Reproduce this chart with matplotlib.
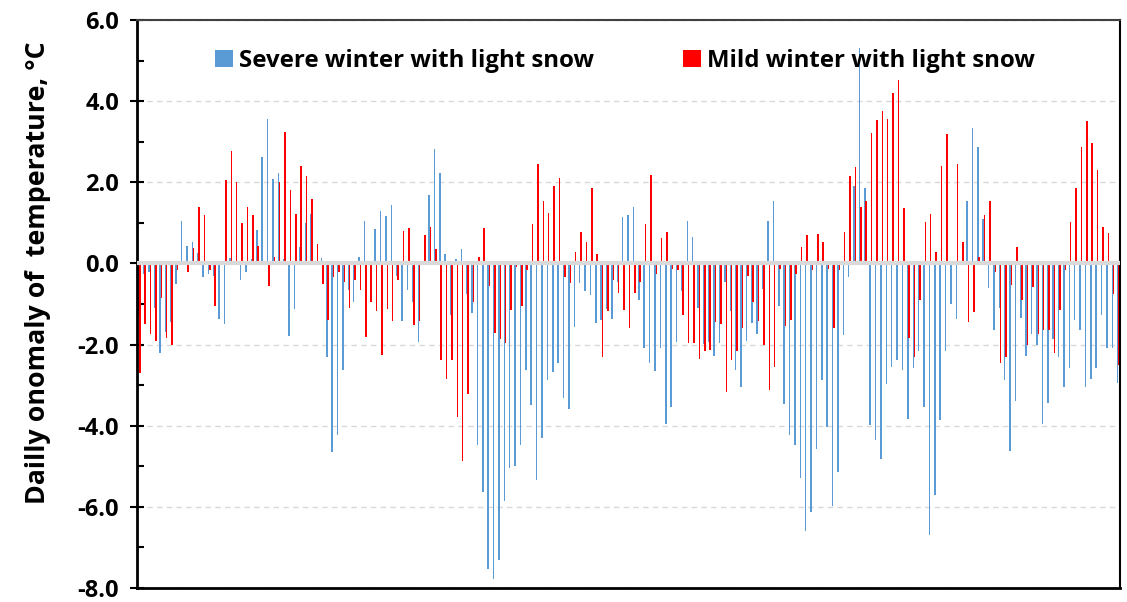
import matplotlib
matplotlib.use('Agg')
import matplotlib.pyplot as plt
import numpy as np
from matplotlib.ticker import MultipleLocator, FormatStrFormatter

# Daily temperature anomaly (°C)
severe_light_snow = [
    -1.3, -0.26, -0.2, -1.1, -2.2, -1.7, -1.45, -0.5, 1.05, 0.44,
    0.53, 0.25, -0.34, -0.27, -0.31, -1.36, -1.5, 0.13, 0.0, -0.4,
    -0.22, 0.1, 0.83, 2.62, 3.55, 2.09, 2.22,
    0.1, -1.8, -1.13, 0.4, 0.99, 1.21, 0.0, 0.13, -2.31, -4.65, -4.22, -2.63, -0.65,
    -0.96, 0.15, 1.04, 0.07, 0.85, 1.28, 1.16, 1.44, -0.31, -1.42, -0.65, -0.96, -1.93,
    0.0, 1.69, 2.82, 2.22, 0.24, -1.26, 0.1, 0.35, -0.76, -1.22, -4.47, -5.63, -7.54,
    -7.78, -7.31, -5.85, -5.05, -4.99, -4.47, -2.63, -3.49, -5.33, -4.31, -2.87, -2.67, -2.45,
    -3.31, -3.58, -1.56, -0.49, -0.69, -0.78, -1.47, -1.4, -1.13, -1.38, -0.45, 1.15, 1.19,
    1.4, -0.9, -2.08, -2.45, -2.65, -2.08, -3.95, -3.54, -1.93, -0.69, 1.05, 0.65, -1.1,
    -1.99, -1.93, -2.29, -1.97, -0.45, -1.18, -2.63, -3.05, -1.9, -1.46, -1.74, -0.63, 1.05,
    1.55, -1.05, -3.47, -4.22, -4.47, -5.3, -6.6, -6.13, -4.58, -2.87, -4.03, -5.99, -5.13,
    -1.76, -0.34, 1.91, 5.3, 1.85, -3.99, -4.35, -4.81, -2.96, -2.56, -2.38, -2.63, -3.84,
    -2.58, -2.15, -3.54, -6.69, -5.72, -3.87, -2.15, -1.01, -1.38, 0.0, 1.53, 3.35, 2.87,
    1.1, -0.6, -1.65, -1.11, -2.88, -4.63, -3.4, -1.35, -2.28, -1.75, -2.02, -3.96, -3.43,
    -1.87, -2.31, -3.05, -2.58, -1.4, -1.63, -3.04, -2.84, -2.58, -1.26, -2.08, -2.08, -2.95,
]
mild_light_snow = [
    -2.7, -1.5, -1.75, -1.9, -0.85, -1.85, -2.0, -0.15, 0.07, -0.22,
    0.37, 1.4, 1.19, -0.15, -1.05, 0.0, 2.05, 2.78, 2.0, 1.0,
    1.4, 1.19, 0.44, 0.0, -0.56, 0.15, 2.0,
    3.25, 1.8, 1.21, 2.4, 2.16, 1.6, 0.49, -0.51, -1.4, -0.33, -0.22, -0.45, -1.11,
    -0.42, -0.65, -1.81, -0.96, -1.17, -2.25, -1.13, -1.42, -0.42, 0.8, 0.87, -1.52, -1.42,
    0.69, 0.9, 0.35, -2.38, -2.84, -2.38, -3.78, -4.87, -3.22, -0.96, 0.15, 0.87, -0.56,
    -1.72, -1.87, -1.96, -1.15, -0.08, -1.05, -0.17, 0.96, 2.44, 1.53, 1.25, 1.91, 2.1,
    -0.33, -0.49, 0.28, 0.78, 0.53, 1.87, 0.24, -2.31, -1.17, -0.4, -0.72, -1.15, -1.6,
    -0.72, -0.46, 0.96, 2.18, -0.25, 0.62, 0.78, -0.13, -0.17, -1.26, -1.97, -1.97, -2.35,
    -2.15, -2.13, -1.45, -1.49, -3.17, -2.38, -2.17, -1.6, -0.3, -0.96, -1.42, -2.02, -3.13,
    -2.55, -0.13, -1.54, -1.4, -0.26, 0.4, 0.69, -0.15, 0.72, 0.54, -0.13, -1.6, -0.17,
    0.78, 2.16, 2.37, 1.4, 1.55, 3.22, 3.53, 3.75, 3.55, 4.19, 4.53, 1.37, -1.84,
    -2.31, -0.9, 1.03, 1.21, 0.27, 2.4, 3.19, 0.0, 2.44, 0.53, -1.45, -1.2, 0.15,
    1.19, 1.53, -0.22, -2.45, -2.31, -0.52, 0.4, -0.9, -2.01, -0.58, -1.75, -1.65, -1.65,
    -2.22, -1.15, -0.15, 1.01, 1.85, 2.87, 3.51, 2.96, 2.31, 0.9, 0.75, -0.76, -2.51,
]
series_labels = ["Severe winter with light snow", "Mild winter with light snow"]
y_label = "Dailly onomaly of  temperature, \u00b0C"

plt.rcParams['font.family'] = ['Open Sans', 'DejaVu Sans']
plt.rcParams['font.weight'] = 'bold'

W, H = 1127, 602
fig = plt.figure(figsize=(W / 100, H / 100), dpi=100)
ax = fig.add_axes([137 / W, 14 / H, 983 / W, 568 / H])

n = len(severe_light_snow)
x = np.arange(n)
ax.bar(x - 0.125, severe_light_snow, width=0.28, color='#5B9BD5', linewidth=0,
       label=series_labels[0], zorder=2)
ax.bar(x + 0.125, mild_light_snow[:n], width=0.28, color='#FF0000', linewidth=0,
       label=series_labels[1], zorder=2)

ax.axhline(0, color='#D9D9D9', lw=3, zorder=3)

ax.set_ylim(-8, 6)
ax.set_xlim(-0.4, n - 1 + 0.3)
ax.set_xticks([])
ax.yaxis.set_major_locator(MultipleLocator(2))
ax.yaxis.set_minor_locator(MultipleLocator(1))
ax.yaxis.set_major_formatter(FormatStrFormatter('%.1f'))
ax.tick_params(axis='y', which='major', direction='inout', length=10, width=1.5,
               labelsize=17, pad=8, colors='black')
ax.tick_params(axis='y', which='minor', direction='in', length=5, width=1.5)
ax.yaxis.grid(True, which='major', color='#D9D9D9', linestyle=(0, (4, 3)), linewidth=1)
ax.set_axisbelow(True)

for side, lw, col in [('left', 2, 'black'), ('bottom', 2, 'black'),
                      ('top', 1.5, '#404040'), ('right', 1.5, 'black')]:
    ax.spines[side].set_linewidth(lw)
    ax.spines[side].set_color(col)

ax.set_ylabel(y_label, fontsize=19.3, fontweight='bold')
ax.yaxis.set_label_coords(-0.087, 0.556)

ax.legend(loc='center', bbox_to_anchor=(0.4964, 0.928), ncol=2, frameon=False,
          prop={'size': 17.3, 'weight': 'bold'}, handlelength=0.75, handleheight=0.75,
          handletextpad=0.25, columnspacing=3.7)

fig.savefig('out.png', dpi=100)
